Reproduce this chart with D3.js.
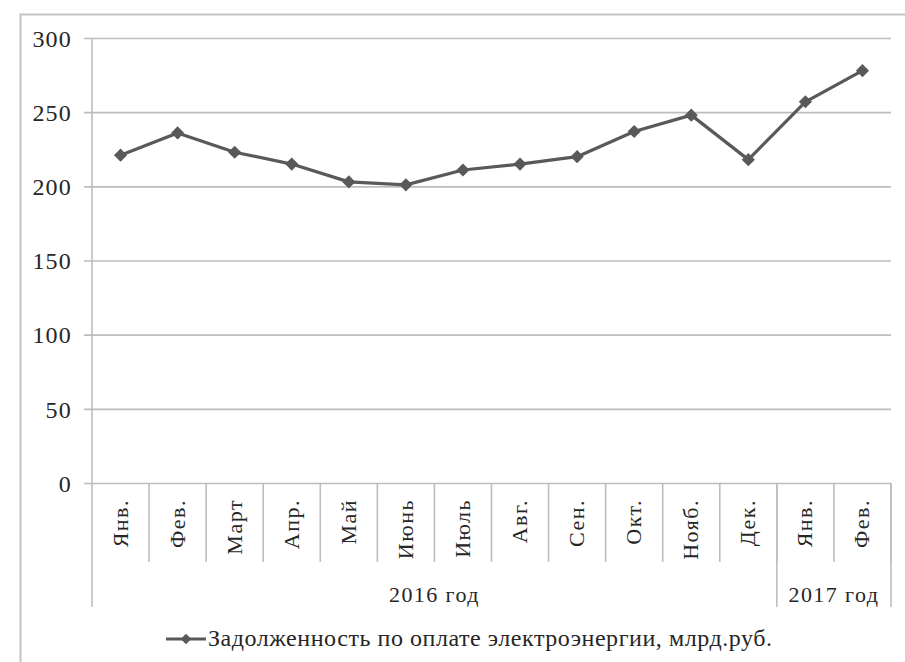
<!DOCTYPE html>
<html><head><meta charset="utf-8">
<script src="https://cdn.jsdelivr.net/npm/d3@7"></script>
</head><body style="margin:0;background:#fff"><svg id="c" width="905" height="662" style="display:block" font-family="Liberation Serif"></svg>
<script>
const months = ["Янв.","Фев.","Март","Апр.","Май","Июнь","Июль","Авг.","Сен.","Окт.","Нояб.","Дек.","Янв.","Фев."];
const years = ["2016 год","2017 год"];
const yearOfMonth = [0,0,0,0,0,0,0,0,0,0,0,0,1,1];
const values = [221,236,223,215,203,201,211,215,220,237,248,218,257,278];
const yTicks = [0,50,100,150,200,250,300];
const seriesName = "Задолженность по оплате электроэнергии, млрд.руб.";

const FONT = '"Liberation Serif"';
const TXT = "#262626";
const svg = d3.select("#c");
const L=92, R=891, T=38, B=483;
const idx = d3.range(months.length);
const x = d3.scaleBand().domain(idx).range([L,R]).padding(0);
const y = d3.scaleLinear().domain([0,300]).range([B,T]);

function serif(sel, size, ls){
  return sel.style("font-family",FONT,"important").style("font-size",size+"px","important")
    .style("letter-spacing",ls+"px").attr("fill",TXT);
}

svg.append("rect").attr("x",20.5).attr("y",14.5).attr("width",900).attr("height",700)
  .attr("fill","none").attr("stroke","#c4c4c4").attr("stroke-width",2);

const gy = svg.append("g").attr("transform",`translate(${L},0)`)
  .call(d3.axisLeft(y).tickValues(yTicks).tickSize(-(R-L)).tickSizeOuter(0).tickPadding(20));
gy.attr("font-family","Liberation Serif").attr("font-size",null);
gy.select(".domain").remove();
gy.selectAll(".tick line").attr("stroke","#bdbdbd").attr("stroke-width",1.6).attr("x1",-8);
serif(gy.selectAll(".tick text"),24,1.2).attr("dy","0.34em");

svg.append("line").attr("x1",L).attr("x2",L).attr("y1",T).attr("y2",607).attr("stroke","#bdbdbd").attr("stroke-width",1.6);

const sepsM = idx.slice(1).map(i=>x(i)).concat([R]);
svg.append("g").selectAll("line").data(sepsM).join("line")
  .attr("x1",d=>d).attr("x2",d=>d).attr("y1",B).attr("y2",562)
  .attr("stroke","#bdbdbd").attr("stroke-width",1.6);
const yearBounds = years.map((yr,k)=>{const ii=idx.filter(i=>yearOfMonth[i]===k);return [x(ii[0]), x(ii[ii.length-1])+x.bandwidth()];});
svg.append("g").selectAll("line").data(yearBounds.map(b=>b[1])).join("line")
  .attr("x1",d=>d).attr("x2",d=>d).attr("y1",B).attr("y2",607)
  .attr("stroke","#bdbdbd").attr("stroke-width",1.6);

serif(svg.append("g").selectAll("text").data(idx).join("text")
  .attr("transform",i=>`translate(${x(i)+x.bandwidth()/2+7},499) rotate(-90)`)
  .attr("text-anchor","end"),22,1.5).text(i=>months[i]);

serif(svg.append("g").selectAll("text").data(years).join("text")
  .attr("x",(d,k)=>(yearBounds[k][0]+yearBounds[k][1])/2).attr("y",602)
  .attr("text-anchor","middle"),22,1.4).text(d=>d);

const line = d3.line().x(i=>x(i)+x.bandwidth()/2).y(i=>y(values[i]));
svg.append("path").datum(idx).attr("d",line).attr("fill","none").attr("stroke","#595959").attr("stroke-width",3.2).attr("stroke-linejoin","round");
const diamond = d3.symbol().type(d3.symbolDiamond2).size(110);
svg.append("g").selectAll("path").data(idx).join("path")
  .attr("transform",i=>`translate(${x(i)+x.bandwidth()/2},${y(values[i])})`)
  .attr("d",diamond).attr("fill","#595959");

svg.append("line").attr("x1",166).attr("x2",206).attr("y1",639).attr("y2",639).attr("stroke","#595959").attr("stroke-width",3.2);
svg.append("path").attr("transform","translate(186,639)").attr("d",d3.symbol().type(d3.symbolDiamond2).size(70)).attr("fill","#595959");
serif(svg.append("text").attr("x",208).attr("y",646),24,0.55).text(seriesName);
</script></body></html>
